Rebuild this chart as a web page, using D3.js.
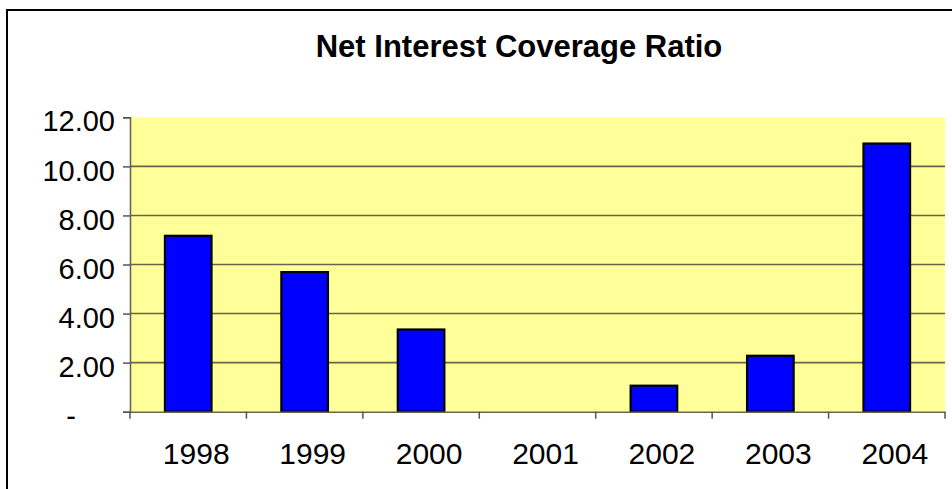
<!DOCTYPE html>
<html>
<head>
<meta charset="utf-8">
<script src="https://cdn.jsdelivr.net/npm/d3@7"></script>
<style>
  html, body { margin: 0; padding: 0; background: #ffffff; }
  svg { display: block; }
  text { font-family: Arial, "Liberation Sans", sans-serif; fill: #000; }
</style>
</head>
<body>
<svg id="chart" width="952" height="489"></svg>
<script>
// Net interest coverage ratio by year
const years = ["1998", "1999", "2000", "2001", "2002", "2003", "2004"];
const ratios = [7.17, 5.69, 3.35, 0, 1.06, 2.28, 10.93];
const yTickValues = [0, 2, 4, 6, 8, 10, 12];
const yTickLabels = ["-", "2.00", "4.00", "6.00", "8.00", "10.00", "12.00"];
const chartTitle = "Net Interest Coverage Ratio";

const svg = d3.select("#chart");
const W = 952, H = 489;
const plot = { left: 130, top: 117.3, right: 945, bottom: 411.7 };
const gridColor = "#66664c";

// Outer chart frame
svg.append("rect")
  .attr("x", 7).attr("y", 10)
  .attr("width", W + 10).attr("height", H + 10)
  .attr("fill", "#ffffff")
  .attr("stroke", "#000").attr("stroke-width", 2);

// Title
svg.append("text")
  .attr("x", 519).attr("y", 56.5)
  .attr("text-anchor", "middle")
  .attr("font-size", 31).attr("font-weight", "bold")
  .text(chartTitle);

const x = d3.scaleBand()
  .domain(years)
  .range([plot.left, plot.right])
  .paddingInner(0).paddingOuter(0);

const y = d3.scaleLinear()
  .domain([0, 12])
  .range([plot.bottom, plot.top]);

// Plot area background
svg.append("rect")
  .attr("x", plot.left).attr("y", plot.top)
  .attr("width", plot.right - plot.left)
  .attr("height", plot.bottom - plot.top)
  .attr("fill", "#ffff99");

// Horizontal gridlines
svg.append("g")
  .selectAll("line")
  .data(yTickValues.filter(v => v > 0 && v < 12))
  .join("line")
  .attr("x1", plot.left).attr("x2", plot.right)
  .attr("y1", d => y(d)).attr("y2", d => y(d))
  .attr("stroke", gridColor).attr("stroke-width", 1.6);

// Bars
const barW = x.bandwidth() * 0.4;
svg.append("g")
  .selectAll("rect")
  .data(years.map((yr, i) => ({ yr, v: ratios[i] })).filter(d => d.v > 0))
  .join("rect")
  .attr("x", d => x(d.yr) + (x.bandwidth() - barW) / 2)
  .attr("y", d => y(d.v))
  .attr("width", barW)
  .attr("height", d => y(0) - y(d.v))
  .attr("fill", "#0000ff")
  .attr("stroke", "#000").attr("stroke-width", 2.2);

// Y axis
const yAxis = d3.axisLeft(y)
  .tickValues(yTickValues)
  .tickFormat((d, i) => yTickLabels[i])
  .tickSize(7)
  .tickPadding(8);
const gy = svg.append("g")
  .attr("transform", `translate(${plot.left},0)`)
  .call(yAxis);
gy.select(".domain").attr("stroke", gridColor).attr("stroke-width", 1.6);
gy.selectAll(".tick line").attr("stroke", "#555").attr("stroke-width", 1.5);
gy.selectAll(".tick text")
  .attr("font-size", 29)
  .attr("font-family", "Arial, 'Liberation Sans', sans-serif")
  .attr("dy", "0.47em")
  .attr("x", d => d === 0 ? -54 : -15);

// X axis
const xAxis = d3.axisBottom(x)
  .tickSize(0)
  .tickPadding(0);
const gx = svg.append("g")
  .attr("transform", `translate(0,${plot.bottom})`)
  .call(xAxis);
gx.select(".domain").attr("stroke", gridColor).attr("stroke-width", 1.6);
gx.selectAll(".tick text")
  .attr("font-size", 30)
  .attr("font-family", "Arial, 'Liberation Sans', sans-serif")
  .attr("dx", 8)
  .attr("dy", 0)
  .attr("y", 52.3);

// Category boundary ticks on the x axis
svg.append("g")
  .selectAll("line")
  .data(d3.range(years.length + 1))
  .join("line")
  .attr("x1", i => plot.left + i * x.step())
  .attr("x2", i => plot.left + i * x.step())
  .attr("y1", plot.bottom).attr("y2", plot.bottom + 7)
  .attr("stroke", "#555").attr("stroke-width", 1.5);
</script>
</body>
</html>
